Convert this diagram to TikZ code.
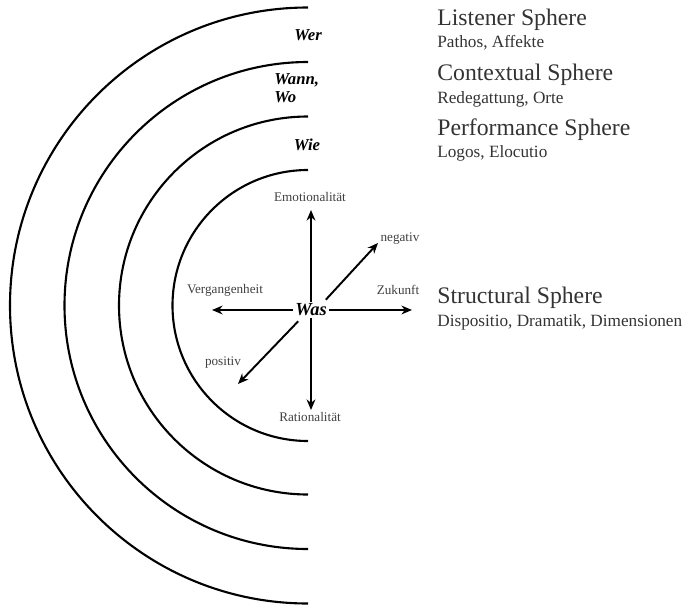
\documentclass[tikz,border=0pt]{standalone}
\usepackage{fontspec}
\setmainfont{Liberation Serif}
\usetikzlibrary{arrows.meta}

\tikzset{
  sphere/.style={line width=1.2pt},
  axis/.style={line width=1.1pt, -{Stealth[length=6pt,width=5pt]}},
  axislabel/.style={text=black!75, font=\fontsize{7.5}{9}\selectfont, inner sep=0pt},
  question/.style={font=\fontsize{9.5}{11}\selectfont\bfseries\itshape, inner sep=0pt},
  title/.style={anchor=west, text=black!80, font=\fontsize{13.5}{15}\selectfont, inner sep=0pt},
  subtitle/.style={anchor=west, text=black!80, font=\fontsize{9.8}{11}\selectfont, inner sep=0pt}
}

\begin{document}
\begin{tikzpicture}[x=0.02cm, y=-0.02cm]
    \useasboundingbox (0,0) rectangle (689,605);

    % Spheres (half circles)
    \coordinate (c) at (308,305.5);
    \foreach \r in {298,243.5,189,135.5}
        \draw[sphere] (308,305.5+\r) arc[start angle=90, end angle=270, radius=\r];

    % Questions
    \node[question] (wer) at (308,35) {Wer};
    \node[question, align=left, anchor=west] (wann) at (274,88) {Wann,\\[-1pt]Wo};
    \node[question] (wie) at (307,145) {Wie};

    % Centre and axes
    \node[font=\fontsize{10.5}{12}\selectfont\bfseries\itshape, inner sep=1pt] (was) at (311,310) {Was};
    \coordinate (emo) at (311,210);
    \coordinate (rat) at (311,410);
    \coordinate (verg) at (212,310);
    \coordinate (zuk) at (412,310);
    \coordinate (neg) at (378,243);
    \coordinate (pos) at (238,384);
    \draw[axis] (was.north) -- (emo);
    \draw[axis] (was.south) -- (rat);
    \draw[axis] (was.west) -- (verg);
    \draw[axis] (was.east) -- (zuk);
    \draw[axis] ([shift={(-3,-2)}]was.north east) -- (neg);
    \draw[axis] ([shift={(5,3)}]was.south west) -- (pos);

    \node[axislabel] (emolabel) at (310,197) {Emotionalität};
    \node[axislabel] (ratlabel) at (310,417) {Rationalität};
    \node[axislabel] (verglabel) at (225,290) {Vergangenheit};
    \node[axislabel] (zuklabel) at (398,290) {Zukunft};
    \node[axislabel] (neglabel) at (400,239) {negativ};
    \node[axislabel] (poslabel) at (223,363) {positiv};

    % Sphere names
    \node[title] (listener) at (437,20) {Listener Sphere};
    \node[subtitle] (listenersub) at (437,43) {Pathos, Affekte};
    \node[title] (context) at (437,75) {Contextual Sphere};
    \node[subtitle] (contextsub) at (437,99) {Redegattung, Orte};
    \node[title] (perform) at (437,130) {Performance Sphere};
    \node[subtitle] (performsub) at (437,153) {Logos, Elocutio};
    \node[title] (struct) at (437,298) {Structural Sphere};
    \node[subtitle] (structsub) at (437,322) {Dispositio, Dramatik, Dimensionen};
\end{tikzpicture}
\end{document}
